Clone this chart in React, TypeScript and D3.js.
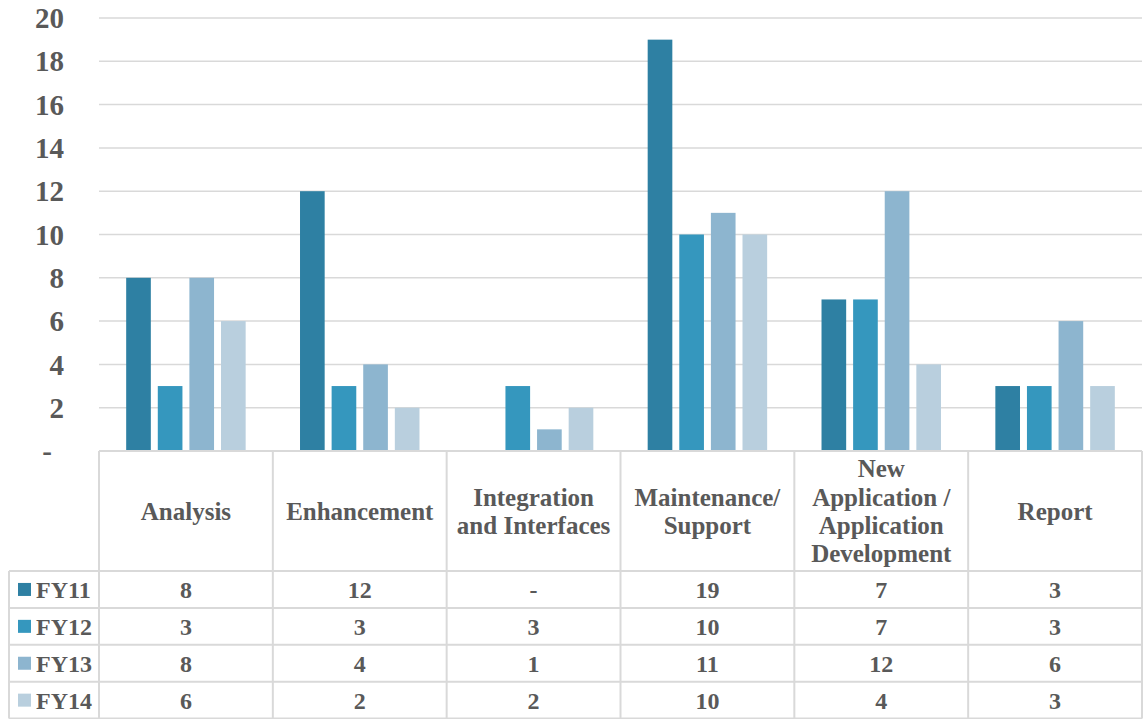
import React from 'react';
import * as d3 from 'd3';

// Work requests by category and fiscal year
const categories = [
  'Analysis',
  'Enhancement',
  'Integration and Interfaces',
  'Maintenance/ Support',
  'New Application / Application Development',
  'Report',
];
const categoryLines = [
  ['Analysis'],
  ['Enhancement'],
  ['Integration', 'and Interfaces'],
  ['Maintenance/', 'Support'],
  ['New', 'Application /', 'Application', 'Development'],
  ['Report'],
];
const seriesNames = ['FY11', 'FY12', 'FY13', 'FY14'];
const fy11 = [8, 12, 0, 19, 7, 3];
const fy12 = [3, 3, 3, 10, 7, 3];
const fy13 = [8, 4, 1, 11, 12, 6];
const fy14 = [6, 2, 2, 10, 4, 3];
const seriesValues = [fy11, fy12, fy13, fy14];
const seriesColors = ['#2E80A3', '#3597BE', '#8DB5CF', '#B9CFDE'];
const yTicks = [0, 2, 4, 6, 8, 10, 12, 14, 16, 18, 20];

const W = 1143;
const H = 719;
const plotLeft = 99;
const plotRight = 1142;
const plotTop = 18;
const baseline = 451;
const headerBottom = 571;
const rowH = 36.9;
const legendLeft = 9;
const textColor = '#595959';
const lineColor = '#D9D9D9';
const font = "'Liberation Serif', 'Times New Roman', serif";

const fmt = (v: number) => (v === 0 ? '-' : String(v));

export default function App() {
  const x0 = d3.scaleBand<string>().domain(categories).range([plotLeft, plotRight]);
  const x1 = d3
    .scaleBand<string>()
    .domain(seriesNames)
    .range([0, x0.bandwidth()])
    .paddingInner(0.22)
    .paddingOuter(0.86);
  const y = d3.scaleLinear().domain([0, 20]).range([baseline, plotTop]);

  const colEdges = categories.map((c) => x0(c) as number).concat([plotRight]);
  const rowTops = seriesNames.map((_, i) => headerBottom + i * rowH);
  const tableBottom = headerBottom + seriesNames.length * rowH;

  return (
    <svg
      width={W}
      height={H}
      style={{ position: 'absolute', left: 0, top: 0, background: '#fff' }}
      fontFamily={font}
      fontWeight="bold"
    >
      {/* gridlines */}
      {yTicks.slice(1).map((t) => (
        <line key={t} x1={plotLeft} x2={plotRight} y1={y(t)} y2={y(t)} stroke={lineColor} strokeWidth={1.5} />
      ))}

      {/* y tick labels */}
      {yTicks.map((t) => (
        <text
          key={t}
          x={t === 0 ? 52 : 64}
          y={y(t)}
          dy="0.35em"
          textAnchor="end"
          fontSize={29}
          fill={textColor}
        >
          {fmt(t)}
        </text>
      ))}

      {/* bars */}
      {categories.map((c, ci) => (
        <g key={c} transform={`translate(${x0(c)},0)`}>
          {seriesNames.map((s, si) => {
            const v = seriesValues[si][ci];
            return (
              <rect
                key={s}
                x={x1(s)}
                y={y(v)}
                width={x1.bandwidth()}
                height={baseline - y(v)}
                fill={seriesColors[si]}
              />
            );
          })}
        </g>
      ))}

      {/* data table grid */}
      <g stroke={lineColor} strokeWidth={2} fill="none">
        <line x1={plotLeft} x2={plotRight} y1={baseline} y2={baseline} />
        {rowTops.map((rt) => (
          <line key={rt} x1={legendLeft} x2={plotRight} y1={rt} y2={rt} />
        ))}
        <line x1={legendLeft} x2={plotRight} y1={tableBottom} y2={tableBottom} />
        <line x1={legendLeft} x2={legendLeft} y1={headerBottom} y2={tableBottom} />
        {colEdges.map((xe, i) => (
          <line key={i} x1={xe} x2={xe} y1={baseline} y2={tableBottom} />
        ))}
      </g>

      {/* category headers */}
      {categories.map((c, ci) => {
        const lines = categoryLines[ci];
        const cx = (x0(c) as number) + x0.bandwidth() / 2;
        const cy = (baseline + headerBottom) / 2;
        const lh = 28.3;
        return (
          <text key={c} x={cx} textAnchor="middle" fontSize={25} fill={textColor}>
            {lines.map((ln, li) => (
              <tspan key={li} x={cx} y={cy + (li - (lines.length - 1) / 2) * lh} dy="0.35em">
                {ln}
              </tspan>
            ))}
          </text>
        );
      })}

      {/* legend keys and values */}
      {seriesNames.map((s, si) => {
        const cy = rowTops[si] + rowH / 2;
        return (
          <g key={s}>
            <rect x={18} y={cy - 6.5} width={13} height={13} fill={seriesColors[si]} />
            <text x={36} y={cy} dy="0.35em" fontSize={24} fill={textColor}>
              {s}
            </text>
            {categories.map((c, ci) => (
              <text
                key={c}
                x={(x0(c) as number) + x0.bandwidth() / 2}
                y={cy}
                dy="0.35em"
                textAnchor="middle"
                fontSize={24}
                fill={textColor}
              >
                {fmt(seriesValues[si][ci])}
              </text>
            ))}
          </g>
        );
      })}
    </svg>
  );
}
